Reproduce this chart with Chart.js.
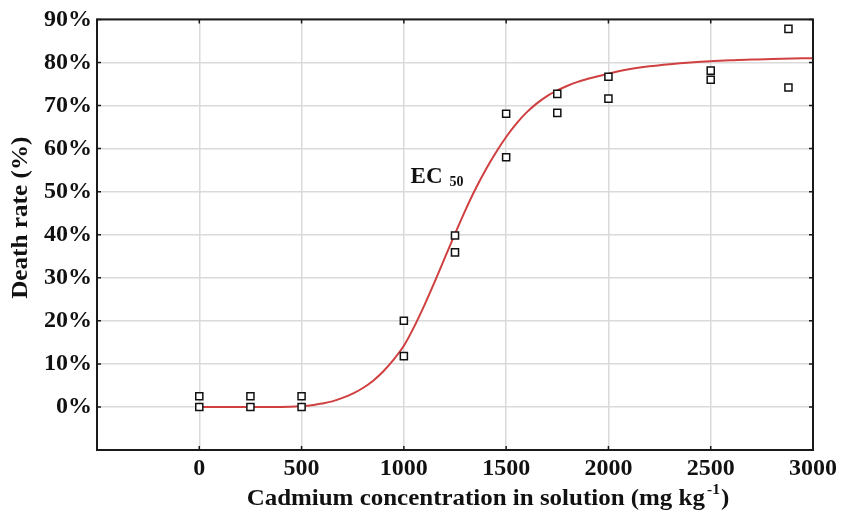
<!DOCTYPE html>
<html>
<head>
<meta charset="utf-8">
<script src="https://cdn.jsdelivr.net/npm/chart.js@4"></script>
<style>
  html, body { margin: 0; padding: 0; background: #ffffff; }
  #wrap { width: 841px; height: 512px; }
</style>
</head>
<body>
<div id="wrap"><canvas id="c" width="841" height="512"></canvas></div>
<script>
// Observed data (hollow squares)
const concentrations = [0, 0, 250, 250, 500, 500, 1000, 1000, 1250, 1250, 1500, 1500, 1750, 1750, 2000, 2000, 2500, 2500, 2880, 2880];
const deathRates     = [0, 2.5, 0, 2.5, 0, 2.5, 20.0, 11.8, 39.8, 35.9, 68.1, 58.0, 72.7, 68.3, 76.7, 71.6, 78.1, 76.0, 87.8, 74.2];

// Fitted dose-response curve
const curveX = [0, 100, 200, 300, 400, 500, 550, 600, 650, 700, 750, 800, 850, 900, 950, 1000, 1050, 1100, 1150, 1200, 1250, 1300, 1350, 1400, 1450, 1500, 1550, 1600, 1650, 1700, 1750, 1800, 1850, 1900, 2000, 2100, 2200, 2300, 2400, 2500, 2600, 2700, 2800, 2900, 3000];
const curveY = [0, 0, 0, 0, 0, 0.2, 0.4, 0.8, 1.3, 2.1, 3.1, 4.4, 6.1, 8.3, 11.0, 14.2, 18.6, 23.6, 29.0, 34.6, 40.2, 45.6, 50.6, 55.1, 59.1, 62.7, 65.8, 68.4, 70.5, 72.2, 73.5, 74.6, 75.5, 76.2, 77.4, 78.4, 79.1, 79.6, 80.0, 80.3, 80.5, 80.7, 80.8, 80.9, 81.0];

const xTicks = [-500, 0, 500, 1000, 1500, 2000, 2500, 3000];
const yTicks = [-10, 0, 10, 20, 30, 40, 50, 60, 70, 80, 90];

const ecLabel = { x: 1033, y: 51.9 };

const SERIF = '"Liberation Serif", "Times New Roman", serif';

const points = concentrations.map((c, i) => ({ x: c, y: deathRates[i] }));
const curve = curveX.map((c, i) => ({ x: c, y: curveY[i] }));

const decor = {
  id: 'decor',
  afterDraw(chart) {
    const { ctx, chartArea: a, scales: { x, y } } = chart;
    ctx.save();
    // frame
    ctx.strokeStyle = '#1a1a1a';
    ctx.lineWidth = 2;
    ctx.strokeRect(a.left, a.top, a.right - a.left, a.bottom - a.top);
    // inner tick marks
    ctx.lineWidth = 1.5;
    ctx.beginPath();
    xTicks.forEach(v => {
      const px = x.getPixelForValue(v);
      ctx.moveTo(px, a.top); ctx.lineTo(px, a.top + 4);
      ctx.moveTo(px, a.bottom); ctx.lineTo(px, a.bottom - 4);
    });
    yTicks.forEach(v => {
      const py = y.getPixelForValue(v);
      ctx.moveTo(a.left, py); ctx.lineTo(a.left + 4, py);
      ctx.moveTo(a.right, py); ctx.lineTo(a.right - 4, py);
    });
    ctx.stroke();

    // EC50 label
    ctx.fillStyle = '#111';
    ctx.textBaseline = 'alphabetic';
    ctx.textAlign = 'left';
    const ex = x.getPixelForValue(ecLabel.x);
    const ey = y.getPixelForValue(ecLabel.y);
    ctx.font = 'bold 23px ' + SERIF;
    ctx.fillText('EC', ex, ey);
    const w = ctx.measureText('EC').width;
    ctx.font = 'bold 14px ' + SERIF;
    ctx.fillText('50', ex + w + 7, ey + 3);

    // X axis title with superscript (slightly widened like the reference)
    const main = 'Cadmium concentration in solution (mg kg';
    const sup = '-1';
    const tail = ')';
    const stretch = 1.04;
    ctx.font = 'bold 24px ' + SERIF;
    const w1 = ctx.measureText(main).width;
    const w3 = ctx.measureText(tail).width;
    ctx.font = 'bold 15px ' + SERIF;
    const w2 = ctx.measureText(sup).width + 3;
    const total = (w1 + w2 + w3) * stretch;
    const cx = (a.left + a.right) / 2 + 33;
    const by = a.bottom + 55;
    ctx.save();
    ctx.translate(cx - total / 2, by);
    ctx.scale(stretch, 1);
    ctx.font = 'bold 24px ' + SERIF;
    ctx.fillText(main, 0, 0);
    ctx.font = 'bold 15px ' + SERIF;
    ctx.fillText(sup, w1 + 2, -11);
    ctx.font = 'bold 24px ' + SERIF;
    ctx.fillText(tail, w1 + w2, 0);
    ctx.restore();

    // Y axis title
    ctx.save();
    ctx.translate(a.left - 76, (a.top + a.bottom) / 2 - 17);
    ctx.rotate(-Math.PI / 2);
    ctx.scale(1.05, 1);
    ctx.textAlign = 'center';
    ctx.textBaseline = 'middle';
    ctx.font = 'bold 24px ' + SERIF;
    ctx.fillText('Death rate (%)', 0, 0);
    ctx.restore();

    ctx.restore();
  }
};

new Chart(document.getElementById('c'), {
  type: 'scatter',
  data: {
    datasets: [
      {
        label: 'Observed',
        data: points,
        showLine: false,
        pointStyle: 'rect',
        pointRadius: 5,
        pointBorderWidth: 1.5,
        pointBorderColor: '#111',
        pointBackgroundColor: '#ffffff',
        order: 0
      },
      {
        label: 'Fit',
        data: curve,
        showLine: true,
        borderColor: 'rgb(208, 64, 64)',
        borderWidth: 2,
        pointRadius: 0,
        tension: 0.3,
        cubicInterpolationMode: 'monotone',
        fill: false,
        order: 1
      }
    ]
  },
  options: {
    responsive: false,
    animation: false,
    layout: { padding: { top: 19, right: 27, left: 0, bottom: 0 } },
    plugins: { legend: { display: false }, tooltip: { enabled: false } },
    scales: {
      x: {
        type: 'linear',
        min: -500, max: 3000,
        afterFit(scale) { scale.height = 62; },
        afterBuildTicks(scale) { scale.ticks = xTicks.map(v => ({ value: v })); },
        grid: { color: '#dadada', lineWidth: 1.5, drawTicks: false },
        border: { display: false },
        ticks: {
          padding: 4,
          color: '#111',
          font: { family: SERIF, size: 24, weight: 'bold' },
          callback: v => (v < 0 ? '' : String(v)),
          maxRotation: 0
        }
      },
      y: {
        type: 'linear',
        min: -10, max: 90,
        afterFit(scale) { scale.width = 97; },
        afterBuildTicks(scale) { scale.ticks = yTicks.map(v => ({ value: v })); },
        grid: { color: '#dadada', lineWidth: 1.5, drawTicks: false },
        border: { display: false },
        ticks: {
          padding: 5,
          color: '#111',
          font: { family: SERIF, size: 24, weight: 'bold' },
          callback: v => (v < 0 ? '' : v + '%')
        }
      }
    }
  },
  plugins: [decor]
});
</script>
</body>
</html>
